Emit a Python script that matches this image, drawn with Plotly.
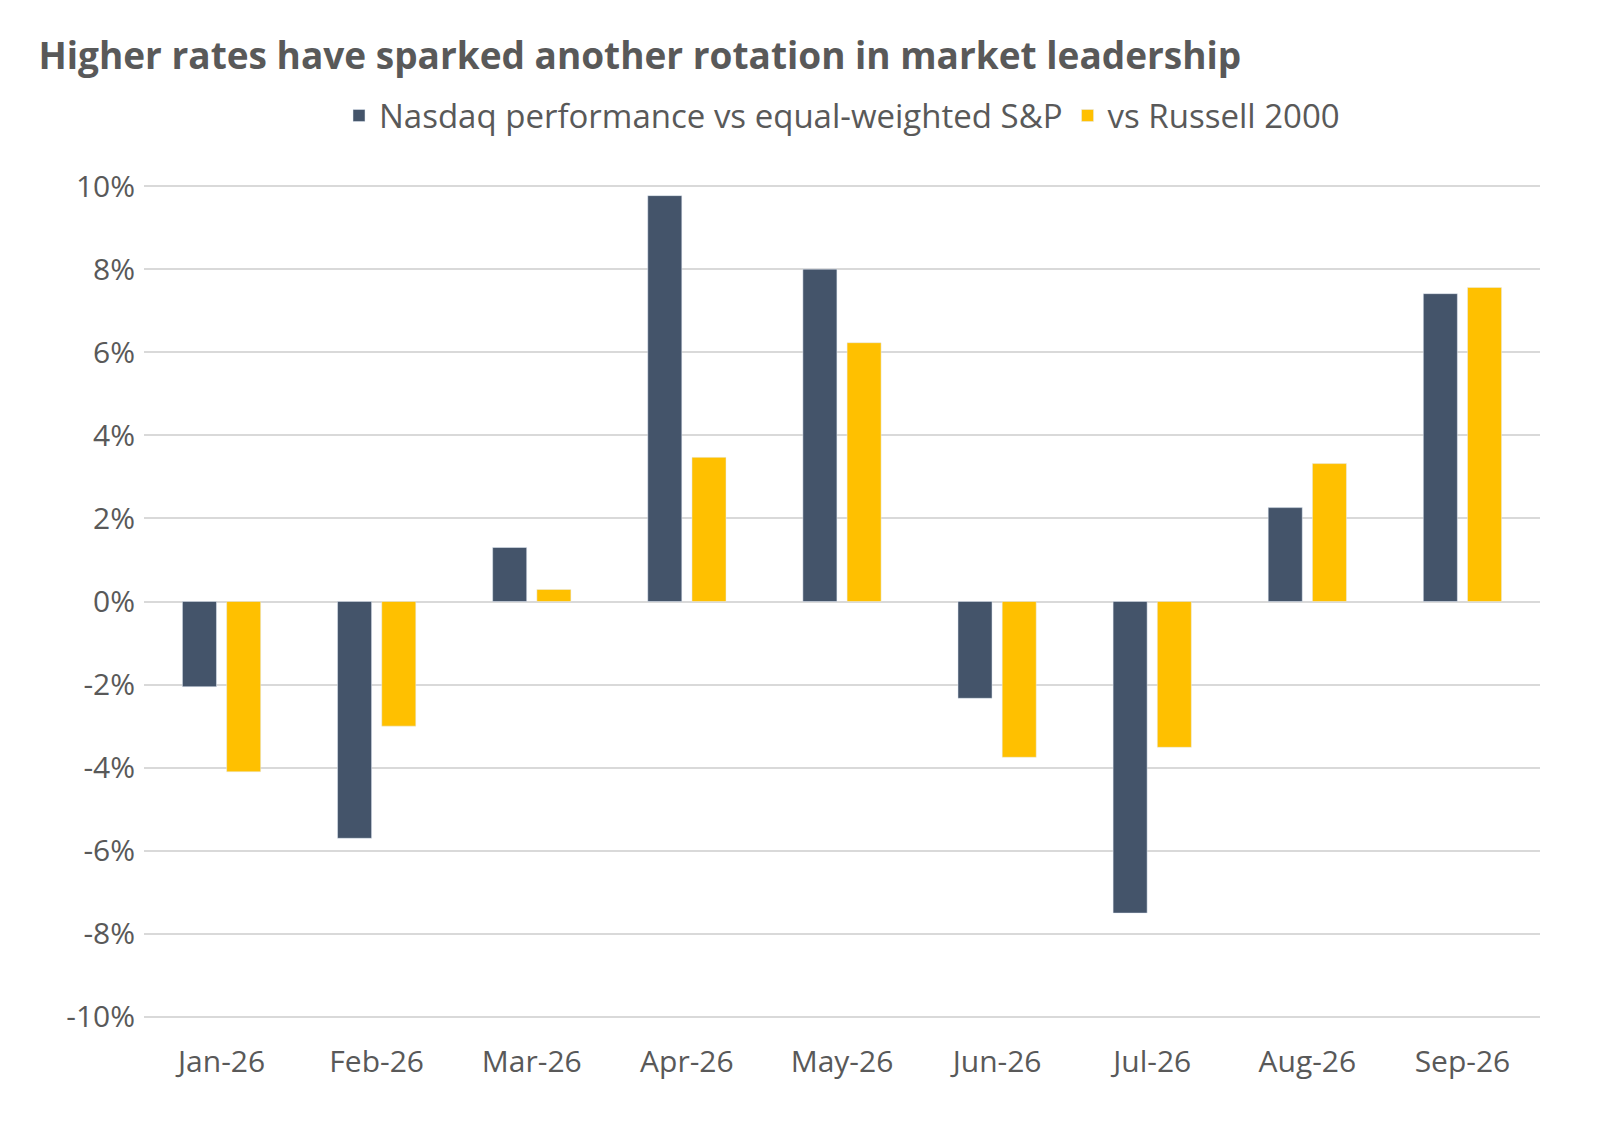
import plotly.graph_objects as go

months = ["Jan-26", "Feb-26", "Mar-26", "Apr-26", "May-26", "Jun-26", "Jul-26", "Aug-26", "Sep-26"]
nasdaq_vs_eq = [-2.05, -5.7, 1.3, 9.77, 8.0, -2.33, -7.5, 2.26, 7.41]
vs_russell = [-4.1, -3.0, 0.29, 3.47, 6.23, -3.75, -3.51, 3.32, 7.56]
y_ticks = [-10, -8, -6, -4, -2, 0, 2, 4, 6, 8, 10]

fig = go.Figure()
fig.add_bar(x=months, y=nasdaq_vs_eq, name="Nasdaq performance vs equal-weighted S&P",
            marker_color="#44546A")
fig.add_bar(x=months, y=vs_russell, name="vs Russell 2000",
            marker_color="#FFC000")

fig.update_layout(
    width=1600, height=1124,
    paper_bgcolor="white", plot_bgcolor="white",
    font=dict(family="Open Sans, sans-serif", color="#595959", size=30),
    title=dict(text="<b>Higher rates have sparked another rotation in market leadership</b>",
               x=0.019, xanchor="left", y=0.957, yanchor="middle",
               font=dict(size=37, color="#595959")),
    legend=dict(orientation="h", x=0.5, xanchor="center", y=1.082, yanchor="middle",
                font=dict(size=33, color="#595959"), itemwidth=30),
    barmode="group", bargap=0.43, bargroupgap=0.23,
    margin=dict(l=136, r=68, t=176, b=113),
    showlegend=True,
)
fig.update_yaxes(range=[-10.05, 10.05], tickvals=y_ticks, ticktext=[f"{v}%" for v in y_ticks],
                 gridcolor="#D9D9D9", gridwidth=1.5, zeroline=True, zerolinecolor="#D9D9D9",
                 zerolinewidth=2, ticks="", ticklabelstandoff=8)
fig.update_xaxes(showgrid=False, ticks="", ticklabelstandoff=22)

fig.write_html("out.html")
